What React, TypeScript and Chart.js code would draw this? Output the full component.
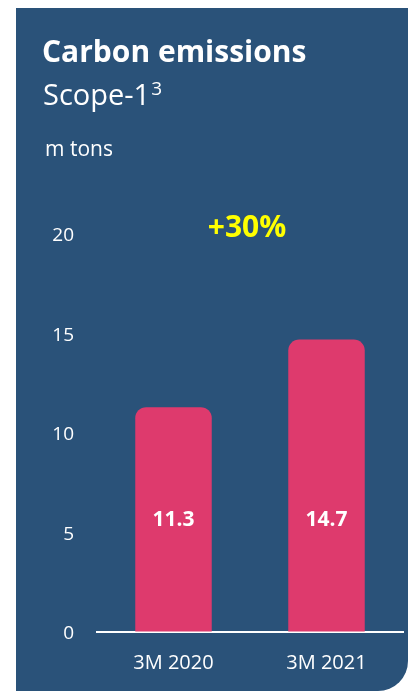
import React, { useEffect, useRef } from "react";
import { Chart, registerables } from "chart.js";

Chart.register(...registerables);

const titleText = "Carbon emissions";
const subtitleText = "Scope-1";
const subtitleSup = "3";
const unitText = "m tons";
const categories = ["3M 2020", "3M 2021"];
const emissions = [11.3, 14.7];
const yMin = 0;
const yMax = 20;
const yStep = 5;

const FONT = "'Open Sans', 'Noto Sans', sans-serif";
const PANEL = "#2a5279";
const BAR = "#de3a6d";
const YELLOW = "#ffff00";

const textPlugin = {
  id: "cardText",
  afterDraw(chart: any) {
    const ctx = chart.ctx;
    const area = chart.chartArea;
    ctx.save();
    ctx.fillStyle = "#ffffff";
    ctx.textBaseline = "alphabetic";
    ctx.textAlign = "left";
    ctx.font = `bold 30px ${FONT}`;
    ctx.fillText(titleText, 26, 54);
    ctx.font = `29px ${FONT}`;
    ctx.fillText(subtitleText, 27, 97);
    const w = ctx.measureText(subtitleText).width;
    ctx.font = `19px ${FONT}`;
    ctx.fillText(subtitleSup, 27 + w + 1, 87);
    ctx.font = `21px ${FONT}`;
    ctx.fillText(unitText, 29, 148);

    // value labels inside bars
    const meta = chart.getDatasetMeta(0);
    ctx.font = `bold 21px ${FONT}`;
    ctx.textAlign = "center";
    ctx.textBaseline = "middle";
    meta.data.forEach((bar: any, i: number) => {
      ctx.fillText(emissions[i].toFixed(1), bar.x, area.bottom - 112);
    });

    // change label
    const pct = Math.round((emissions[1] / emissions[0] - 1) * 100);
    const mid = (meta.data[0].x + meta.data[1].x) / 2;
    ctx.fillStyle = YELLOW;
    ctx.font = `bold 30px ${FONT}`;
    ctx.fillText(`+${pct}%`, mid - 3, area.top - 6);
    ctx.restore();
  },
};

export default function App() {
  const ref = useRef<HTMLCanvasElement>(null);
  useEffect(() => {
    if (!ref.current) return;
    const chart = new Chart(ref.current, {
      type: "bar",
      data: {
        labels: categories,
        datasets: [
          {
            data: emissions,
            backgroundColor: BAR,
            borderWidth: 0,
            borderRadius: { topLeft: 11, topRight: 11, bottomLeft: 0, bottomRight: 0 },
            borderSkipped: "bottom",
            barPercentage: 0.5,
            categoryPercentage: 1,
          },
        ],
      },
      options: {
        animation: false,
        responsive: true,
        maintainAspectRatio: false,
        layout: { padding: { left: 0, right: 5, top: 226, bottom: 0 } },
        plugins: {
          legend: { display: false },
          tooltip: { enabled: false },
          title: { display: false },
        },
        scales: {
          x: {
            z: 1,
            grid: { display: true, color: "transparent", drawTicks: false },
            border: { display: true, color: "#ffffff", width: 2 },
            ticks: {
              color: "#ffffff",
              font: { family: FONT, size: 20 },
              padding: 19,
            },
            afterFit: (scale: any) => {
              scale.height = 59;
            },
          },
          y: {
            min: yMin,
            max: yMax,
            grid: { display: true, color: "transparent", drawTicks: false },
            border: { display: false },
            ticks: {
              stepSize: yStep,
              color: "#ffffff",
              font: { family: FONT, size: 19 },
              padding: 23,
              labelOffset: 2,
            },
            afterFit: (scale: any) => {
              scale.width = 81;
            },
          },
        },
      },
      plugins: [textPlugin],
    });
    return () => chart.destroy();
  }, []);

  return (
    <div
      style={{
        position: "fixed",
        left: 16,
        top: 8,
        width: 392,
        height: 683,
        background: PANEL,
        borderBottomRightRadius: 30,
        overflow: "hidden",
      }}
    >
      <canvas ref={ref} />
    </div>
  );
}
